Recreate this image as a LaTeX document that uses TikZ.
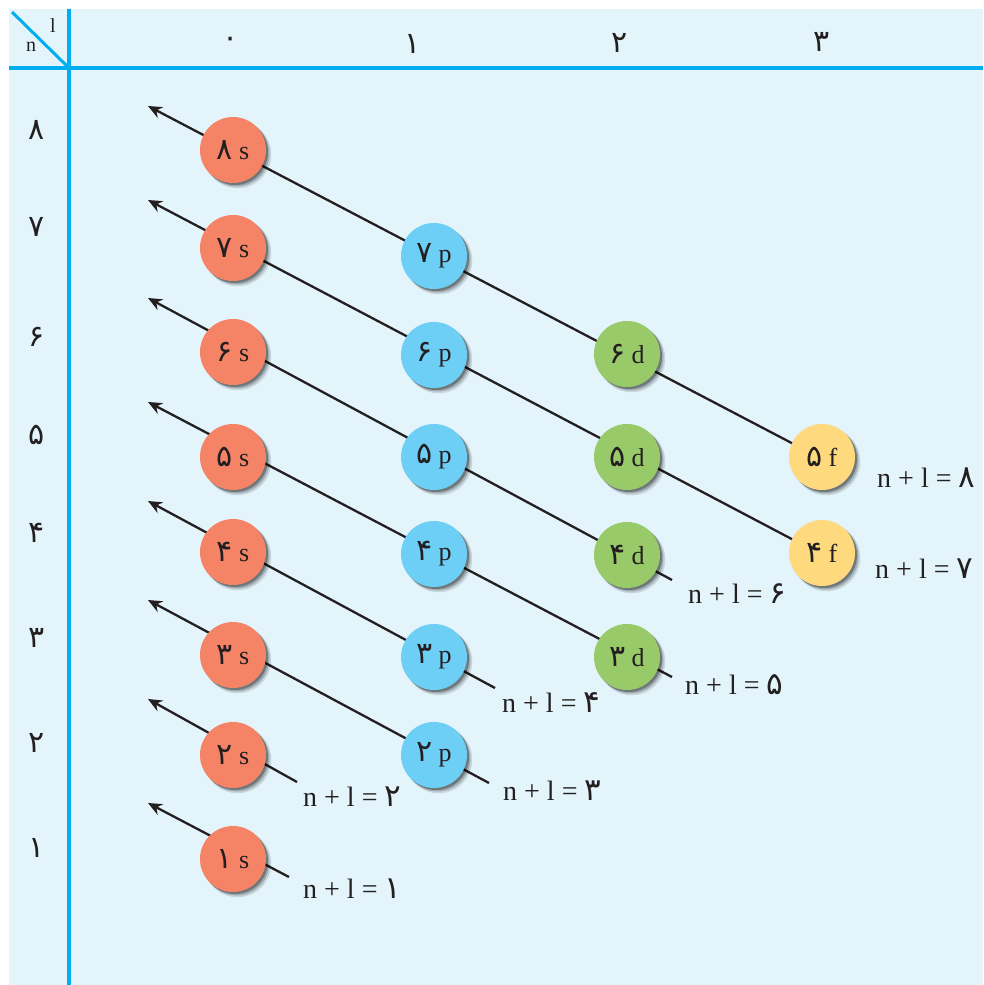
\documentclass[tikz,border=0pt]{standalone}
\usepackage{fontspec}
\setmainfont{Liberation Serif}
\newfontfamily\fa[Script=Arabic]{DejaVu Sans}
\usetikzlibrary{arrows.meta,shadows}
\definecolor{bgblue}{HTML}{E3F4FB}
\definecolor{gridblue}{HTML}{00AEEF}
\definecolor{sorb}{HTML}{F58467}
\definecolor{porb}{HTML}{6DCFF6}
\definecolor{dorb}{HTML}{99CA6A}
\definecolor{forb}{HTML}{FFD97D}
\definecolor{inkk}{HTML}{231F20}
\newcommand\orbtxt[2]{{\fa\fontsize{30}{30}\selectfont #1}\hspace{6pt}#2}
\tikzset{
  orbital/.style={circle,minimum size=66pt,inner sep=0pt,text=inkk,
    font=\fontsize{26}{26}\selectfont,
    drop shadow={shadow xshift=4.5pt,shadow yshift=-4.5pt,fill=black,opacity=0.12,shadow scale=1.02},
    drop shadow={shadow xshift=3.5pt,shadow yshift=-3.5pt,fill=black,opacity=0.2},
    drop shadow={shadow xshift=2pt,shadow yshift=-2pt,fill=black,opacity=0.3}},
  sorbital/.style={orbital,fill=sorb},
  porbital/.style={orbital,fill=porb},
  dorbital/.style={orbital,fill=dorb},
  forbital/.style={orbital,fill=forb},
  gridline/.style={draw=gridblue,line width=3.5pt},
  diagline/.style={draw=inkk,line width=2.3pt,-{Stealth[length=14pt,width=12pt]}},
  sumlabel/.style={anchor=base west,inner sep=0pt,text=inkk,font=\fontsize{28}{28}\selectfont},
  axislabel/.style={inner sep=0pt,text=inkk,font=\fa\fontsize{30}{30}\selectfont},
}
\newcommand\sumtxt[1]{n + l = {\fa\fontsize{31}{31}\selectfont #1}}
\begin{document}
\begin{tikzpicture}[x=1pt,y=-1pt]
\useasboundingbox (0,0) rectangle (983,985);
\fill[bgblue] (9,9) rectangle (983,985);
% grid
\draw[gridline] (69,9) -- (69,985);
\draw[gridline] (9,68) -- (983,68);
\draw[draw=gridblue,line width=3pt] (12,12) -- (69,68);
\node[inner sep=0pt,text=inkk,font=\fontsize{20}{20}\selectfont] (cl) at (53,26) {l};
\node[inner sep=0pt,text=inkk,font=\fontsize{20}{20}\selectfont] (cn) at (31,47) {n};
% column headers
\node[axislabel] (h0) at (231,42) {۰};
\node[axislabel] (h1) at (413,44) {۱};
\node[axislabel] (h2) at (620,43) {۲};
\node[axislabel] (h3) at (822,42) {۳};
% row labels
\node[axislabel] (r8) at (37,130) {۸};
\node[axislabel] (r7) at (37,227) {۷};
\node[axislabel] (r6) at (37,337) {۶};
\node[axislabel] (r5) at (37,435) {۵};
\node[axislabel] (r4) at (37,533) {۴};
\node[axislabel] (r3) at (37,638) {۳};
\node[axislabel] (r2) at (37,743) {۲};
\node[axislabel] (r1) at (37,848) {۱};
% connector coordinates
\coordinate (t1) at (148,803); \coordinate (e1) at (289,877);
\coordinate (t2) at (148,699); \coordinate (e2) at (297,782);
\coordinate (t3) at (148,600); \coordinate (e3) at (489,783);
\coordinate (t4) at (148,501); \coordinate (e4) at (495,688);
\coordinate (t5) at (148,402); \coordinate (e5) at (672,677);
\coordinate (t6) at (148,298); \coordinate (e6) at (672,580);
\coordinate (t7) at (148,200); \coordinate (e7) at (805,546);
\coordinate (t8) at (148,106); \coordinate (e8) at (805,450);
\foreach \k in {1,...,8} {\draw[diagline] (e\k) -- (t\k);}
% orbitals
\node[sorbital] (s8) at (233,150) {\orbtxt{۸}{s}};
\node[sorbital] (s7) at (233,248) {\orbtxt{۷}{s}};
\node[sorbital] (s6) at (233,352) {\orbtxt{۶}{s}};
\node[sorbital] (s5) at (233,457) {\orbtxt{۵}{s}};
\node[sorbital] (s4) at (233,552) {\orbtxt{۴}{s}};
\node[sorbital] (s3) at (233,655) {\orbtxt{۳}{s}};
\node[sorbital] (s2) at (233,755) {\orbtxt{۲}{s}};
\node[sorbital] (s1) at (233,859) {\orbtxt{۱}{s}};
\node[porbital] (p7) at (434,256) {\orbtxt{۷}{p}};
\node[porbital] (p6) at (434,355) {\orbtxt{۶}{p}};
\node[porbital] (p5) at (434,457) {\orbtxt{۵}{p}};
\node[porbital] (p4) at (434,554) {\orbtxt{۴}{p}};
\node[porbital] (p3) at (434,657) {\orbtxt{۳}{p}};
\node[porbital] (p2) at (434,755) {\orbtxt{۲}{p}};
\node[dorbital] (d6) at (627,354) {\orbtxt{۶}{d}};
\node[dorbital] (d5) at (627,457) {\orbtxt{۵}{d}};
\node[dorbital] (d4) at (627,555) {\orbtxt{۴}{d}};
\node[dorbital] (d3) at (627,657) {\orbtxt{۳}{d}};
\node[forbital] (f5) at (822,457) {\orbtxt{۵}{f}};
\node[forbital] (f4) at (822,553) {\orbtxt{۴}{f}};
% n + l labels
\node[sumlabel] (m8) at (877,487) {\sumtxt{۸}};
\node[sumlabel] (m7) at (875,578) {\sumtxt{۷}};
\node[sumlabel] (m6) at (688,603) {\sumtxt{۶}};
\node[sumlabel] (m5) at (685,694) {\sumtxt{۵}};
\node[sumlabel] (m4) at (502,712) {\sumtxt{۴}};
\node[sumlabel] (m3) at (503,800) {\sumtxt{۳}};
\node[sumlabel] (m2) at (303,806) {\sumtxt{۲}};
\node[sumlabel] (m1) at (303,898) {\sumtxt{۱}};
\end{tikzpicture}
\end{document}
